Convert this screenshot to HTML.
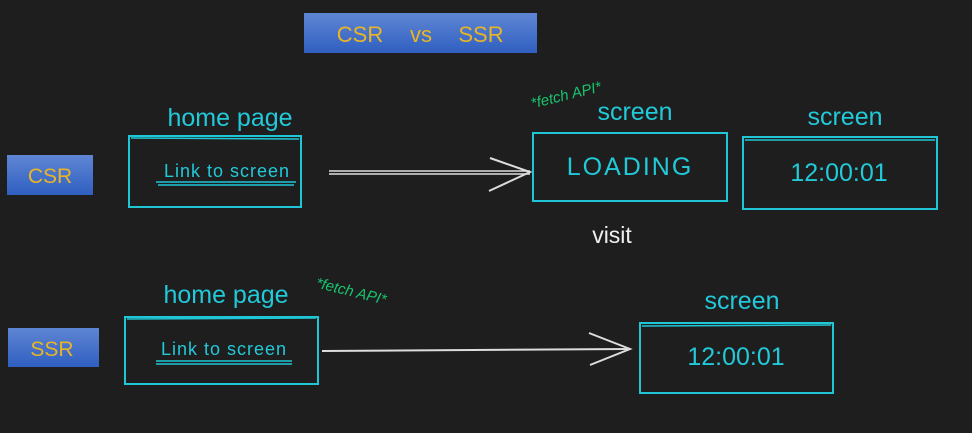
<!DOCTYPE html>
<html><head><meta charset="utf-8"><style>
html,body{margin:0;padding:0;background:#1e1e1e;}
svg{display:block}
.c{fill:#22c9d9;font-family:"Liberation Sans",sans-serif;}
.b{fill:none;stroke:#1fc6d6;stroke-width:2;}
</style></head><body>
<svg width="972" height="433" viewBox="0 0 972 433">
<defs><linearGradient id="g" x1="0" y1="0" x2="0" y2="1"><stop offset="0" stop-color="#5f86d4"/><stop offset="1" stop-color="#2f5fc0"/></linearGradient></defs>
<rect width="972" height="433" fill="#1e1e1e"/>
<rect x="304" y="13" width="233" height="40" fill="url(#g)"/>
<text x="360" y="42" text-anchor="middle" font-family="Liberation Sans,sans-serif" font-size="22" fill="#e9b526">CSR</text>
<text x="421" y="42" text-anchor="middle" font-family="Liberation Sans,sans-serif" font-size="22" fill="#e9b526">vs</text>
<text x="481" y="42" text-anchor="middle" font-family="Liberation Sans,sans-serif" font-size="22" fill="#e9b526">SSR</text>
<rect x="7" y="155" width="86" height="40" fill="url(#g)"/>
<text x="50" y="183" text-anchor="middle" font-family="Liberation Sans,sans-serif" font-size="21" fill="#e9b526">CSR</text>
<rect x="8" y="328" width="91" height="39" fill="url(#g)"/>
<text x="52" y="356" text-anchor="middle" font-family="Liberation Sans,sans-serif" font-size="21" fill="#e9b526">SSR</text>

<!-- CSR row -->
<text class="c" x="230" y="126" text-anchor="middle" font-size="25">home page</text>
<rect class="b" x="129" y="136" width="172" height="71"/>
<line x1="131" y1="138" x2="299" y2="139" stroke="#1fc6d6" stroke-width="1.5"/>
<text class="c" x="227" y="177" text-anchor="middle" font-size="18" letter-spacing="1">Link to screen</text>
<line x1="156" y1="182" x2="296" y2="182" stroke="#1fc6d6" stroke-width="1.5"/>
<line x1="158" y1="185" x2="294" y2="185" stroke="#1fc6d6" stroke-width="1.5"/>
<line x1="329" y1="171" x2="530" y2="171" stroke="#ddd" stroke-width="1.5"/>
<line x1="329" y1="174" x2="530" y2="174" stroke="#ddd" stroke-width="1.5"/>
<polyline points="490,158 530,172 489,191" fill="none" stroke="#ddd" stroke-width="2"/>

<text x="566" y="100" font-family="Liberation Sans,sans-serif" font-style="italic" font-size="15" fill="#18c36e" text-anchor="middle" transform="rotate(-14 566 95)">*fetch API*</text>
<text class="c" x="635" y="120" text-anchor="middle" font-size="25">screen</text>
<rect class="b" x="533" y="133" width="194" height="68"/>
<text class="c" x="630" y="175" text-anchor="middle" font-size="25" letter-spacing="2">LOADING</text>
<text x="612" y="243" text-anchor="middle" font-family="Liberation Sans,sans-serif" font-size="23" fill="#f0f0f0">visit</text>

<text class="c" x="845" y="125" text-anchor="middle" font-size="25">screen</text>
<rect class="b" x="743" y="137" width="194" height="72"/>
<line x1="745" y1="140" x2="935" y2="140" stroke="#1fc6d6" stroke-width="1.5"/>
<text class="c" x="839" y="181" text-anchor="middle" font-size="25">12:00:01</text>

<!-- SSR row -->
<text class="c" x="226" y="303" text-anchor="middle" font-size="25">home page</text>
<text x="350" y="296" font-family="Liberation Sans,sans-serif" font-style="italic" font-size="15" fill="#18c36e" text-anchor="middle" transform="rotate(14 350 296)">*fetch API*</text>
<rect class="b" x="125" y="317" width="193" height="67"/>
<line x1="127" y1="319" x2="316" y2="318" stroke="#1fc6d6" stroke-width="1.5"/>
<text class="c" x="224" y="355" text-anchor="middle" font-size="18" letter-spacing="1">Link to screen</text>
<line x1="156" y1="361" x2="292" y2="361" stroke="#1fc6d6" stroke-width="1.5"/>
<line x1="156" y1="364" x2="292" y2="364" stroke="#1fc6d6" stroke-width="1.5"/>
<line x1="322" y1="351" x2="630" y2="349" stroke="#ddd" stroke-width="2"/>
<polyline points="589,333 630,349 590,365" fill="none" stroke="#ddd" stroke-width="2"/>

<text class="c" x="742" y="309" text-anchor="middle" font-size="25">screen</text>
<rect class="b" x="640" y="323" width="193" height="70"/>
<line x1="642" y1="326" x2="831" y2="325" stroke="#1fc6d6" stroke-width="1.5"/>
<text class="c" x="736" y="365" text-anchor="middle" font-size="25">12:00:01</text>
</svg>
</body></html>
